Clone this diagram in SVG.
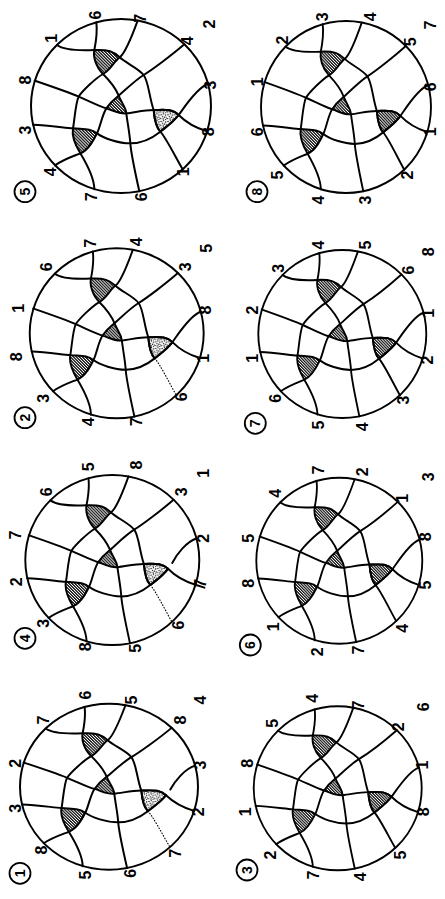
<svg xmlns="http://www.w3.org/2000/svg" xmlns:xlink="http://www.w3.org/1999/xlink" width="445" height="899" viewBox="0 0 445 899">
<style>
.ln{fill:none;stroke:#000;stroke-width:6;stroke-linecap:round;stroke-linejoin:round}
.dot{fill:none;stroke:#000;stroke-width:3.5;stroke-dasharray:2 7;stroke-linecap:round}
.hat{fill:url(#hatch);stroke:none}
.stp{fill:url(#stipple);stroke:none}
.lb{font-family:"Liberation Sans",Arial,sans-serif;font-size:16px;font-weight:bold;text-anchor:middle;dominant-baseline:central;fill:#000}
.cn{font-family:"Liberation Sans",Arial,sans-serif;font-size:14px;font-weight:bold;text-anchor:middle;dominant-baseline:central;fill:#000}
.cc{fill:none;stroke:#000;stroke-width:1.8}
</style>
<defs>
<pattern id="hatch" width="6.5" height="6.5" patternUnits="userSpaceOnUse" patternTransform="rotate(-45)">
<rect width="6.5" height="6.5" fill="#fff"/>
<line x1="2" y1="0" x2="2" y2="6.5" stroke="#000" stroke-width="3.6"/>
</pattern>
<pattern id="stipple" width="20" height="20" patternUnits="userSpaceOnUse">
<rect width="20" height="20" fill="#fff"/>
<g fill="#000">
<circle cx="3" cy="4" r="2.2"/><circle cx="10" cy="2" r="1.8"/><circle cx="16" cy="6" r="2.2"/>
<circle cx="7" cy="10" r="1.9"/><circle cx="13" cy="12" r="2.3"/><circle cx="19" cy="14" r="1.8"/>
<circle cx="2" cy="16" r="2"/><circle cx="9" cy="17" r="2.2"/><circle cx="16" cy="19" r="1.8"/>
</g>
</pattern>
<g id="base">
<path class="hat" d="M 282 150 C 324 148 340 155 358 172 C 340 185 331 209 308 222 C 286 200 278 170 282 150 Z"/>
<path class="hat" d="M 355 287 C 365 312 376 320 378 340 C 355 342 341 332 318 325 C 331 305 345 295 355 287 Z"/>
<path class="hat" d="M 218 385 C 251 388 270 385 290 400 C 280 420 265 450 240 460 C 225 435 214 405 218 385 Z"/>
<ellipse class="ln" cx="362" cy="318" rx="270" ry="261"/>
<path class="ln" d="M 282 568 C 282 530 255 485 240 460 S 214 405 218 385 S 226 305 235 290 S 285 235 308 222 S 340 185 358 172 S 400 95 412 62"/>
<path class="ln" d="M 288 67 C 292 100 286 130 282 150 S 286 200 308 222 S 345 262 355 287 S 376 320 378 340 S 388 400 390 430 S 405 520 417 574"/>
<path class="ln" d="M 170 135 C 190 150 240 152 282 150 C 324 148 340 155 358 172 S 415 205 430 225 S 446 290 460 330 C 462 355 465 380 480 395"/>
<path class="ln" d="M 103 242 C 150 258 200 275 235 290 S 295 318 318 325 S 355 342 378 340 S 430 330 460 330 C 490 330 515 325 535 345 S 590 385 620 394"/>
<path class="ln" d="M 98 374 C 140 376 185 382 218 385 S 270 385 290 400 S 355 430 390 430 S 455 415 480 395 S 520 365 535 345"/>
<path class="ln" d="M 164 496 C 190 478 215 470 240 460 S 280 420 290 400 S 305 345 318 325 S 345 295 355 287 S 405 240 430 225 S 515 165 552 133"/>
</g>
<path id="triR" d="M 460 330 C 490 330 515 325 535 345 C 520 365 505 375 480 395 C 465 380 462 355 460 330 Z"/>
<path id="tail1" d="M 480 395 C 495 410 525 470 547 508"/>
<path id="tail3" d="M 535 345 C 550 325 590 262 623 252"/>
<path id="tail3g" d="M 548 327 C 562 300 592 262 623 252"/>
</defs>

<g id="fig5">
<g transform="translate(121 106) scale(0.3333 0.3333) translate(-362 -318)">
<use href="#triR" class="stp"/>
<use href="#base"/>
<use href="#triR" class="ln"/>
<use href="#tail1" class="ln"/>
<use href="#tail3" class="ln"/>
</g>
<circle class="cc" cx="25" cy="191.7" r="10.5"/><text class="cn" transform="translate(25 191.7) rotate(-90)">5</text>
<text class="lb" transform="translate(91.7 196.7) rotate(-90)">7</text>
<text class="lb" transform="translate(50 171.7) rotate(-90)">4</text>
<text class="lb" transform="translate(25 130) rotate(-90)">3</text>
<text class="lb" transform="translate(25 80) rotate(-90)">8</text>
<text class="lb" transform="translate(51.7 38.3) rotate(-90)">1</text>
<text class="lb" transform="translate(95 15) rotate(-90)">6</text>
<text class="lb" transform="translate(140 18.3) rotate(-90)">7</text>
<text class="lb" transform="translate(209.3 24) rotate(-90)">2</text>
<text class="lb" transform="translate(187.7 40.7) rotate(-90)">4</text>
<text class="lb" transform="translate(210 85) rotate(-90)">3</text>
<text class="lb" transform="translate(208.3 131.7) rotate(-90)">8</text>
<text class="lb" transform="translate(183.3 171.7) rotate(-90)">1</text>
<text class="lb" transform="translate(141.7 196.7) rotate(-90)">6</text>
</g>

<g id="fig8">
<g transform="translate(346 107) scale(0.3148 0.3295) translate(-362 -318)">
<use href="#triR" class="hat"/>
<use href="#base"/>
<use href="#triR" class="ln"/>
<use href="#tail1" class="ln"/>
<use href="#tail3" class="ln"/>
</g>
<circle class="cc" cx="257" cy="191.7" r="10.5"/><text class="cn" transform="translate(257 191.7) rotate(-90)">8</text>
<text class="lb" transform="translate(318.7 200) rotate(-90)">4</text>
<text class="lb" transform="translate(277 175) rotate(-90)">5</text>
<text class="lb" transform="translate(257 131.7) rotate(-90)">6</text>
<text class="lb" transform="translate(257 81.7) rotate(-90)">1</text>
<text class="lb" transform="translate(282 40) rotate(-90)">2</text>
<text class="lb" transform="translate(322 16.7) rotate(-90)">3</text>
<text class="lb" transform="translate(370.3 16.7) rotate(-90)">4</text>
<text class="lb" transform="translate(430.3 25) rotate(-90)">7</text>
<text class="lb" transform="translate(410.3 41.7) rotate(-90)">5</text>
<text class="lb" transform="translate(430.3 86.7) rotate(-90)">6</text>
<text class="lb" transform="translate(430.3 131.7) rotate(-90)">1</text>
<text class="lb" transform="translate(407 175) rotate(-90)">2</text>
<text class="lb" transform="translate(365.3 200) rotate(-90)">3</text>
</g>

<g id="fig2">
<g transform="translate(116.7 333.3) scale(0.3222 0.3257) translate(-362 -318)">
<use href="#triR" class="stp"/>
<use href="#base"/>
<use href="#triR" class="ln"/>
<use href="#tail1" class="dot"/>
<use href="#tail3" class="ln"/>
</g>
<circle class="cc" cx="25" cy="417.7" r="10.5"/><text class="cn" transform="translate(25 417.7) rotate(-90)">2</text>
<text class="lb" transform="translate(88.3 421.7) rotate(-90)">4</text>
<text class="lb" transform="translate(43.3 398.3) rotate(-90)">3</text>
<text class="lb" transform="translate(16.7 356.7) rotate(-90)">8</text>
<text class="lb" transform="translate(18.3 308.3) rotate(-90)">1</text>
<text class="lb" transform="translate(46.7 266.7) rotate(-90)">6</text>
<text class="lb" transform="translate(90 243.3) rotate(-90)">7</text>
<text class="lb" transform="translate(136.7 241.7) rotate(-90)">4</text>
<text class="lb" transform="translate(206.7 248.3) rotate(-90)">5</text>
<text class="lb" transform="translate(185 266.7) rotate(-90)">3</text>
<text class="lb" transform="translate(205 310) rotate(-90)">8</text>
<text class="lb" transform="translate(203.3 358.3) rotate(-90)">1</text>
<text class="lb" transform="translate(181.7 396.7) rotate(-90)">6</text>
<text class="lb" transform="translate(136.7 421.7) rotate(-90)">7</text>
</g>

<g id="fig7">
<g transform="translate(342.3 334) scale(0.3111 0.3218) translate(-362 -318)">
<use href="#triR" class="hat"/>
<use href="#base"/>
<use href="#triR" class="ln"/>
<use href="#tail1" class="ln"/>
<use href="#tail3" class="ln"/>
</g>
<circle class="cc" cx="255.3" cy="423.3" r="10.5"/><text class="cn" transform="translate(255.3 423.3) rotate(-90)">7</text>
<text class="lb" transform="translate(318.7 425) rotate(-90)">5</text>
<text class="lb" transform="translate(275.3 398.3) rotate(-90)">6</text>
<text class="lb" transform="translate(252 358.3) rotate(-90)">1</text>
<text class="lb" transform="translate(252 310) rotate(-90)">2</text>
<text class="lb" transform="translate(278.7 268.3) rotate(-90)">3</text>
<text class="lb" transform="translate(318.7 245) rotate(-90)">4</text>
<text class="lb" transform="translate(365.3 245) rotate(-90)">5</text>
<text class="lb" transform="translate(428.7 251.7) rotate(-90)">8</text>
<text class="lb" transform="translate(408.7 270) rotate(-90)">6</text>
<text class="lb" transform="translate(428.7 313.3) rotate(-90)">1</text>
<text class="lb" transform="translate(427 360) rotate(-90)">2</text>
<text class="lb" transform="translate(403.7 400) rotate(-90)">3</text>
<text class="lb" transform="translate(362 426.7) rotate(-90)">4</text>
</g>

<g id="fig4">
<g transform="translate(112.3 560) scale(0.3222 0.3257) translate(-362 -318)">
<use href="#triR" class="stp"/>
<use href="#base"/>
<use href="#triR" class="ln"/>
<use href="#tail1" class="dot"/>
<use href="#tail3g" class="ln"/>
<path class="ln" d="M 620 394 L 648 403"/>
</g>
<circle class="cc" cx="25" cy="638.3" r="10.5"/><text class="cn" transform="translate(25 638.3) rotate(-90)">4</text>
<text class="lb" transform="translate(85 646.7) rotate(-90)">8</text>
<text class="lb" transform="translate(43.3 623.3) rotate(-90)">3</text>
<text class="lb" transform="translate(16.7 581.7) rotate(-90)">2</text>
<text class="lb" transform="translate(15 535) rotate(-90)">7</text>
<text class="lb" transform="translate(46.7 491.7) rotate(-90)">6</text>
<text class="lb" transform="translate(88.3 466.7) rotate(-90)">5</text>
<text class="lb" transform="translate(136.7 465) rotate(-90)">8</text>
<text class="lb" transform="translate(203.3 473.3) rotate(-90)">1</text>
<text class="lb" transform="translate(181.7 491.7) rotate(-90)">3</text>
<text class="lb" transform="translate(203.3 538.3) rotate(-90)">2</text>
<text class="lb" transform="translate(200 583.3) rotate(-90)">7</text>
<text class="lb" transform="translate(178.3 625) rotate(-90)">6</text>
<text class="lb" transform="translate(135 648.3) rotate(-90)">5</text>
</g>

<g id="fig6">
<g transform="translate(339.3 560.7) scale(0.3074 0.3180) translate(-362 -318)">
<use href="#triR" class="hat"/>
<use href="#base"/>
<use href="#triR" class="ln"/>
<use href="#tail1" class="ln"/>
<use href="#tail3" class="ln"/>
</g>
<circle class="cc" cx="250.3" cy="645" r="10.5"/><text class="cn" transform="translate(250.3 645) rotate(-90)">6</text>
<text class="lb" transform="translate(317 651.7) rotate(-90)">2</text>
<text class="lb" transform="translate(273.7 626.7) rotate(-90)">1</text>
<text class="lb" transform="translate(248.7 583.3) rotate(-90)">8</text>
<text class="lb" transform="translate(248.7 538.3) rotate(-90)">5</text>
<text class="lb" transform="translate(275.3 493.3) rotate(-90)">4</text>
<text class="lb" transform="translate(318.7 470) rotate(-90)">7</text>
<text class="lb" transform="translate(362 471.7) rotate(-90)">2</text>
<text class="lb" transform="translate(428.7 476.7) rotate(-90)">3</text>
<text class="lb" transform="translate(402 498.3) rotate(-90)">1</text>
<text class="lb" transform="translate(425.3 536.7) rotate(-90)">8</text>
<text class="lb" transform="translate(425.3 585) rotate(-90)">5</text>
<text class="lb" transform="translate(402 628.3) rotate(-90)">4</text>
<text class="lb" transform="translate(358.7 650) rotate(-90)">7</text>
</g>

<g id="fig1">
<g transform="translate(109 786.7) scale(0.3296 0.3180) translate(-362 -318)">
<use href="#triR" class="stp"/>
<use href="#base"/>
<use href="#triR" class="ln"/>
<use href="#tail1" class="dot"/>
<use href="#tail3g" class="ln"/>
</g>
<circle class="cc" cx="20" cy="873.3" r="10.5"/><text class="cn" transform="translate(20 873.3) rotate(-90)">1</text>
<text class="lb" transform="translate(85 875) rotate(-90)">5</text>
<text class="lb" transform="translate(41.7 850) rotate(-90)">8</text>
<text class="lb" transform="translate(15 808.3) rotate(-90)">3</text>
<text class="lb" transform="translate(15 763.3) rotate(-90)">2</text>
<text class="lb" transform="translate(43.3 720) rotate(-90)">7</text>
<text class="lb" transform="translate(85 695) rotate(-90)">6</text>
<text class="lb" transform="translate(131.7 700) rotate(-90)">5</text>
<text class="lb" transform="translate(200 700) rotate(-90)">4</text>
<text class="lb" transform="translate(180 720) rotate(-90)">8</text>
<text class="lb" transform="translate(200 765) rotate(-90)">3</text>
<text class="lb" transform="translate(198.3 811.7) rotate(-90)">2</text>
<text class="lb" transform="translate(175 853.3) rotate(-90)">7</text>
<text class="lb" transform="translate(130 873.3) rotate(-90)">6</text>
</g>

<g id="fig3">
<g transform="translate(337.7 788.3) scale(0.3111 0.3142) translate(-362 -318)">
<use href="#triR" class="hat"/>
<use href="#base"/>
<use href="#triR" class="ln"/>
<use href="#tail1" class="ln"/>
<use href="#tail3" class="ln"/>
</g>
<circle class="cc" cx="247" cy="870" r="10.5"/><text class="cn" transform="translate(247 870) rotate(-90)">3</text>
<text class="lb" transform="translate(313.7 875) rotate(-90)">7</text>
<text class="lb" transform="translate(270.3 855) rotate(-90)">2</text>
<text class="lb" transform="translate(245.3 811.7) rotate(-90)">1</text>
<text class="lb" transform="translate(247 763.3) rotate(-90)">8</text>
<text class="lb" transform="translate(272 723.3) rotate(-90)">5</text>
<text class="lb" transform="translate(312 698.3) rotate(-90)">4</text>
<text class="lb" transform="translate(358.7 705) rotate(-90)">7</text>
<text class="lb" transform="translate(423.7 706.7) rotate(-90)">6</text>
<text class="lb" transform="translate(398.7 726.7) rotate(-90)">2</text>
<text class="lb" transform="translate(422 765) rotate(-90)">1</text>
<text class="lb" transform="translate(423.7 811.7) rotate(-90)">8</text>
<text class="lb" transform="translate(400.3 855) rotate(-90)">5</text>
<text class="lb" transform="translate(360.3 876.7) rotate(-90)">4</text>
</g>
</svg>
